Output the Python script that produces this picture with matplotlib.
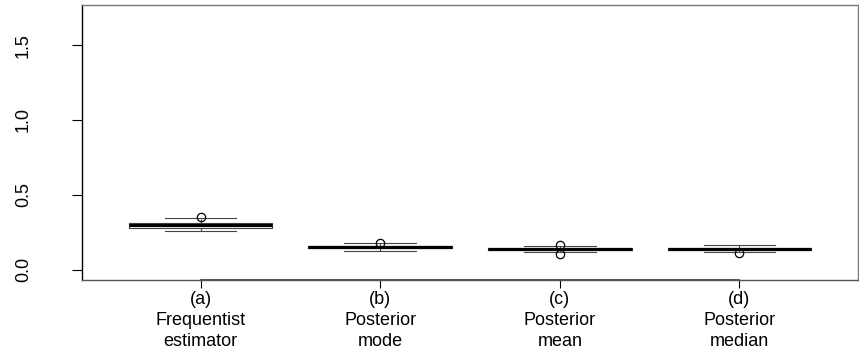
import matplotlib.pyplot as plt

plt.rcParams['font.family'] = ['Liberation Sans', 'DejaVu Sans']

# Estimated summaries
labels = ["(a)\nFrequentist\nestimator", "(b)\nPosterior\nmode",
          "(c)\nPosterior\nmean", "(d)\nPosterior\nmedian"]
whislo = [0.256, 0.127, 0.117, 0.117]
q1 = [0.278, 0.145, 0.133, 0.133]
med = [0.295, 0.152, 0.139, 0.139]
q3 = [0.310, 0.160, 0.146, 0.147]
whishi = [0.346, 0.176, 0.155, 0.165]
fliers = [[0.352], [0.178], [0.161, 0.106], [0.112]]

stats = []
for i in range(len(labels)):
    stats.append(dict(whislo=whislo[i], q1=q1[i], med=med[i], q3=q3[i],
                      whishi=whishi[i], fliers=fliers[i]))

fig = plt.figure(figsize=(8.59, 3.53), dpi=100)
ax = fig.add_axes([82 / 859, 1 - 280 / 353, (858 - 82) / 859, (280 - 5) / 353])

pos = [1, 2, 3, 4]
ax.bxp(stats, positions=pos, widths=0.8, showfliers=True,
       boxprops=dict(color='#444444', linewidth=0.8),
       whiskerprops=dict(color='#444444', linewidth=0.8, linestyle='--'),
       capprops=dict(color='#444444', linewidth=0.8),
       capwidths=0.4,
       medianprops=dict(color='black', linewidth=2.3),
       flierprops=dict(marker='o', markerfacecolor='none', markeredgecolor='black',
                       markersize=6, markeredgewidth=0.9))

ax.set_xlim(0.34, 4.66)
ax.set_ylim(-0.07, 1.768)

for s in ax.spines.values():
    s.set_color('#777777')
    s.set_linewidth(1)
ax.spines['left'].set_color('black')
ax.spines['bottom'].set_color('#555555')
ax.plot([1, 4], [-0.07, -0.07], color='#333333', linewidth=1.2, clip_on=False)

ax.set_yticks([0.0, 0.5, 1.0, 1.5])
ax.set_yticklabels(['0.0', '0.5', '1.0', '1.5'], rotation=90, va='center', fontsize=13)
ax.set_xticks(pos)
ax.set_xticklabels(labels, fontsize=13, linespacing=1.3)
ax.tick_params(axis='y', length=7, width=0.8, pad=29)
ax.tick_params(axis='x', length=6, width=0.8, pad=2)

fig.savefig('out.png', dpi=100)
